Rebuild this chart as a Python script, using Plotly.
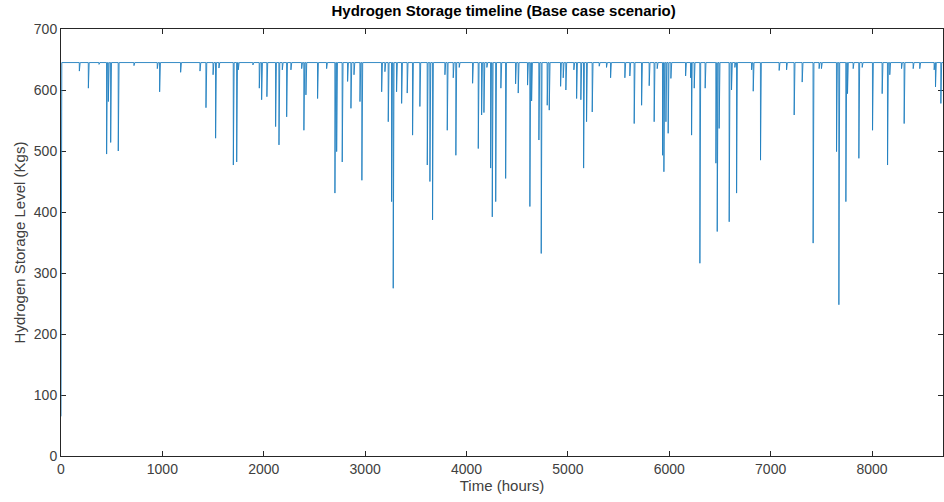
import numpy as np
import plotly.graph_objects as go

# Hourly hydrogen storage level over one year (kg)
HOURS = 8760
FULL_LEVEL = 645
START_LEVEL = 65

# Hours where storage was drawn down, with the lowest level reached (kg)
dip_hours = [
    181, 270, 375, 450, 467, 490, 565, 720, 950, 973, 1180, 1371, 1430,
    1500, 1525, 1558, 1700, 1733, 1749, 1893, 1956, 1979, 2031, 2117, 2150,
    2183, 2226, 2268, 2374, 2396, 2416, 2531, 2620, 2702, 2719, 2774, 2827,
    2860, 2890, 2949, 2968, 3163, 3195, 3228, 3261, 3277, 3310, 3360, 3415,
    3468, 3540, 3613, 3639, 3665, 3787, 3810, 3869, 3895, 3928, 4060, 4116,
    4149, 4172, 4201, 4238, 4254, 4288, 4339, 4386, 4484, 4510, 4602, 4625,
    4642, 4714, 4737, 4796, 4816, 4928, 4954, 4980, 5059, 5086, 5128, 5155,
    5184, 5240, 5309, 5381, 5421, 5562, 5611, 5654, 5727, 5802, 5851, 5881,
    5934, 5947, 5967, 5989, 6016, 6161, 6210, 6220, 6246, 6302, 6354, 6460,
    6473, 6492, 6591, 6614, 6647, 6664, 6812, 6828, 6900, 7084, 7157, 7232,
    7311, 7419, 7478, 7501, 7650, 7673, 7742, 7758, 7814, 7870, 7903, 8005,
    8100, 8153, 8175, 8291, 8317, 8406, 8471, 8613, 8626, 8679,
]
dip_levels = [
    631, 603, 642, 495, 581, 514, 500, 640, 635, 597, 629, 631, 571,
    625, 521, 636, 477, 482, 633, 641, 603, 584, 589, 540, 510,
    633, 556, 633, 635, 534, 592, 586, 635, 431, 499, 482, 614,
    570, 625, 581, 452, 597, 630, 548, 417, 275, 597, 578, 595,
    526, 573, 477, 450, 387, 625, 534, 620, 493, 637, 611, 504,
    559, 563, 637, 472, 392, 417, 603, 455, 610, 595, 608, 409,
    582, 518, 332, 575, 567, 606, 620, 600, 633, 586, 584, 472,
    548, 564, 639, 637, 620, 620, 623, 545, 575, 607, 548, 635,
    493, 466, 548, 529, 619, 623, 620, 526, 603, 316, 603, 480,
    368, 537, 384, 600, 637, 431, 633, 598, 485, 632, 633, 559,
    613, 349, 635, 635, 499, 248, 417, 594, 635, 488, 637, 534,
    594, 477, 625, 635, 545, 635, 635, 633, 605, 578,
]

# axis ticks
x_ticks = [0, 1000, 2000, 3000, 4000, 5000, 6000, 7000, 8000]
y_ticks = [0, 100, 200, 300, 400, 500, 600, 700]

hours = np.arange(HOURS)
levels = np.full(HOURS, float(FULL_LEVEL))
levels[0] = START_LEVEL
levels[np.array(dip_hours)] = dip_levels

fig = go.Figure(
    go.Scatter(
        x=hours,
        y=levels,
        mode="lines",
        line=dict(color="#1f7fc0", width=0.9),
        cliponaxis=False,
        hoverinfo="x+y",
    )
)

axis_color = "#262626"
label_color = "#404040"
font_family = "Liberation Sans, Arial, sans-serif"

fig.update_layout(
    width=944,
    height=502,
    margin=dict(l=61, r=1, t=29, b=46),
    paper_bgcolor="white",
    plot_bgcolor="white",
    showlegend=False,
    font=dict(family=font_family, size=14, color=label_color),
    title=dict(
        text="<b>Hydrogen Storage timeline (Base case scenario)</b>",
        x=0.5335,
        xanchor="center",
        y=0.99,
        yanchor="top",
        font=dict(size=15, color="black"),
    ),
)

fig.update_xaxes(
    range=[0, 8700],
    tickvals=x_ticks,
    ticks="inside",
    ticklen=5,
    tickcolor=axis_color,
    showline=True,
    linecolor=axis_color,
    linewidth=1,
    mirror="ticks",
    layer="below traces",
    showgrid=False,
    zeroline=False,
    tickfont=dict(size=14, color=label_color),
    title=dict(text="Time (hours)", font=dict(size=15, color=label_color), standoff=2),
)

fig.update_yaxes(
    range=[0, 700],
    tickvals=y_ticks,
    ticks="inside",
    ticklen=5,
    tickcolor=axis_color,
    showline=True,
    linecolor=axis_color,
    linewidth=1,
    mirror="ticks",
    layer="below traces",
    showgrid=False,
    zeroline=False,
    tickfont=dict(size=14, color=label_color),
    title=dict(text="Hydrogen Storage Level (Kgs)", font=dict(size=15, color=label_color), standoff=4),
)

fig.write_html("out.html")
